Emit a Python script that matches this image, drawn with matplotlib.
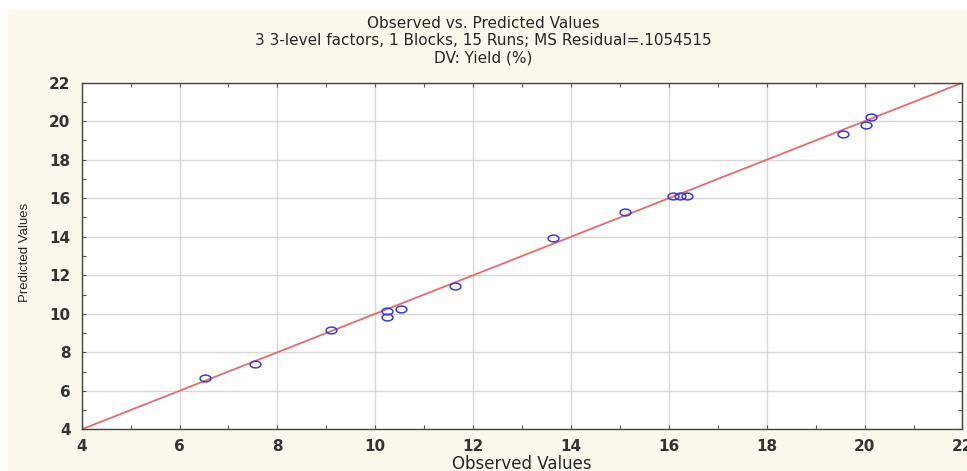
import matplotlib
matplotlib.use("Agg")
import matplotlib.pyplot as plt
from matplotlib.path import Path
from matplotlib.patches import Rectangle
from matplotlib.ticker import MultipleLocator
import numpy as np

observed = [6.52, 7.54, 9.09, 10.23, 10.23, 10.53, 11.63, 13.64, 15.10,
            16.09, 16.23, 16.36, 19.55, 20.03, 20.13]
predicted = [6.65, 7.39, 9.17, 10.16, 9.85, 10.23, 11.44, 13.92, 15.27,
             16.13, 16.13, 16.13, 19.33, 19.82, 20.23]
line_ends = [4, 22]
ticks = [4, 6, 8, 10, 12, 14, 16, 18, 20, 22]
title_lines = ["Observed vs. Predicted Values",
               "3 3-level factors, 1 Blocks, 15 Runs; MS Residual=.1054515",
               "DV: Yield (%)"]

W, H = 967, 471
plt.rcParams['font.family'] = ['DejaVu Sans']

cream = "#fdf8ee"
txt = "#262626"
fig = plt.figure(figsize=(W / 100, H / 100), dpi=100, facecolor=cream)
fig.patches.append(Rectangle((0, 1 - 10 / H), 1, 10 / H, transform=fig.transFigure,
                             facecolor="white", edgecolor="none", zorder=0))
fig.patches.append(Rectangle((0, 0), 8 / W, 1, transform=fig.transFigure,
                             facecolor="white", edgecolor="none", zorder=0))

left, right, top, bottom = 81.7, 962.5, 82.7, 429.3
ax = fig.add_axes([left / W, 1 - bottom / H, (right - left) / W, (bottom - top) / H])
ax.set_facecolor("white")

ax.plot(line_ends, line_ends, color="#e86a6a", lw=1.3, zorder=2)

theta = np.linspace(0, 2 * np.pi, 60)
ell = Path(np.column_stack([1.6 * np.cos(theta), np.sin(theta)]), closed=True)
ax.plot(observed, predicted, linestyle="none", marker=ell, markersize=7.8,
        markerfacecolor="none", markeredgecolor="#3a3ae0", markeredgewidth=1.1, zorder=3)

ax.set_xlim(4, 22)
ax.set_ylim(4, 22)
ax.set_xticks(ticks)
ax.set_yticks(ticks)
ax.xaxis.set_minor_locator(MultipleLocator(1))
ax.yaxis.set_minor_locator(MultipleLocator(1))
ax.grid(True, which="major", color="#d8d8d8", lw=1.0, zorder=0)
ax.tick_params(which="both", direction="in", top=True, right=True,
               length=3, width=0.8, color="#555555")
ax.tick_params(axis="x", pad=7)
ax.tick_params(axis="y", pad=8)
for lab in ax.get_xticklabels() + ax.get_yticklabels():
    lab.set_fontsize(11)
    lab.set_fontweight("bold")
    lab.set_color("#333333")
for s in ax.spines.values():
    s.set_color("#444444")
    s.set_linewidth(1.0)

fig.text(0.5 * (left + right) / W, 1 - 464 / H, "Observed Values",
         ha="center", va="center", fontsize=12, color=txt)
fig.text(25 / W, 1 - 252 / H, "Predicted Values", rotation=90,
         ha="center", va="center", fontsize=9.5, color=txt,
         family=["Liberation Sans", "DejaVu Sans"])

for yc, t in zip([23, 40.5, 58], title_lines):
    fig.text(0.5, 1 - yc / H, t, ha="center", va="center", fontsize=11, color=txt)

fig.savefig("out.png", dpi=100, facecolor=cream)
